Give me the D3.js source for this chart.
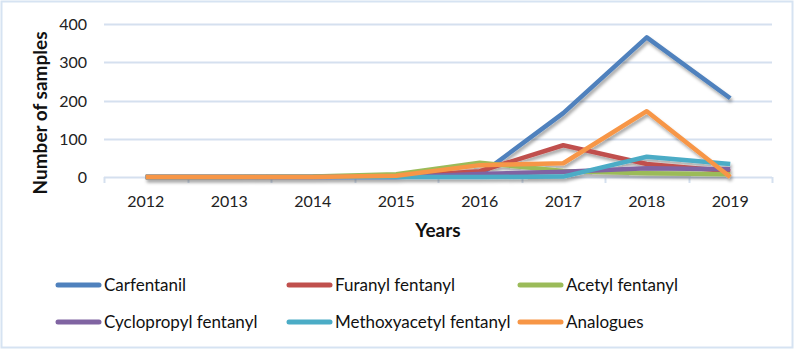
<!DOCTYPE html>
<html>
<head>
<meta charset="utf-8">
<script src="https://cdn.jsdelivr.net/npm/d3@7"></script>
<style>
  html, body { margin: 0; padding: 0; background: #fff; }
  svg { display: block; }
</style>
</head>
<body>
<svg id="chart" width="796" height="350"></svg>
<script>
const years = ["2012","2013","2014","2015","2016","2017","2018","2019"];
const yTicks = [0, 100, 200, 300, 400];
const seriesNames = ["Carfentanil","Furanyl fentanyl","Acetyl fentanyl","Cyclopropyl fentanyl","Methoxyacetyl fentanyl","Analogues"];
const carfentanil   = [0, 0, 0, 0, 5, 167, 365, 206];
const furanyl       = [0, 0, 0, 1, 15, 83, 34, 15];
const acetyl        = [0, 0, 1, 7, 37, 16, 10, 7];
const cyclopropyl   = [0, 0, 0, 0, 8, 14, 23, 20];
const methoxyacetyl = [0, 0, 0, 0, 0, 1, 53, 34];
const analogues     = [0, 0, 0, 3, 31, 36, 172, 0];
const seriesValues = [carfentanil, furanyl, acetyl, cyclopropyl, methoxyacetyl, analogues];
const colors = ["#4F81BD","#C0504D","#9BBB59","#8064A2","#4BACC6","#F79646"];

const svg = d3.select("#chart");
const gridColor = "#d5e0ef";
const font = "Lato, 'Open Sans', sans-serif";

// border
svg.append("rect").attr("x", 1.5).attr("y", 1.5).attr("width", 791).attr("height", 346)
  .attr("fill", "#fff").attr("stroke", "#d6e3f2").attr("stroke-width", 2);

const defs = svg.append("defs");
const f = defs.append("filter").attr("id", "shadow").attr("x", "-10%").attr("y", "-10%").attr("width", "120%").attr("height", "130%");
f.append("feDropShadow").attr("dx", 1.5).attr("dy", 3).attr("stdDeviation", 1.8)
  .attr("flood-color", "#000").attr("flood-opacity", 0.33);

const x = d3.scaleBand().domain(years).range([104, 772]).padding(0);
const y = d3.scaleLinear().domain([0, 400]).range([177, 24]);
const cx = d => x(d) + x.bandwidth() / 2;

// gridlines
svg.append("g").selectAll("line").data(yTicks.filter(t => t > 0)).join("line")
  .attr("x1", 104).attr("x2", 772)
  .attr("y1", d => Math.round(y(d)) + 0.5).attr("y2", d => Math.round(y(d)) + 0.5)
  .attr("stroke", gridColor).attr("stroke-width", 2);

// y axis labels
const yAxis = d3.axisLeft(y).tickValues(yTicks).tickSize(0).tickPadding(0);
const gy = svg.append("g").attr("transform", "translate(87,0)").call(yAxis);
gy.select(".domain").remove();
gy.selectAll("text").attr("font-family", font).attr("font-size", 16).attr("fill", "#222").attr("dy", "0.35em");

// x axis
const gx = svg.append("g").attr("transform", "translate(0,177)");
gx.append("line").attr("x1", 104).attr("x2", 772).attr("y1", 0.5).attr("y2", 0.5)
  .attr("stroke", gridColor).attr("stroke-width", 2);
const edges = years.map(d => x(d)).concat([x.range()[1]]);
gx.selectAll("line.tick").data(edges).join("line").attr("class", "tick")
  .attr("x1", d => Math.round(d) + 0.5).attr("x2", d => Math.round(d) + 0.5)
  .attr("y1", 0).attr("y2", 6).attr("stroke", gridColor).attr("stroke-width", 2);
gx.selectAll("text").data(years).join("text")
  .attr("x", d => cx(d)).attr("y", 30).attr("text-anchor", "middle")
  .attr("font-family", font).attr("font-size", 16).attr("fill", "#222").text(d => d);

// lines
const line = d3.line().x((d, i) => cx(years[i])).y(d => y(d));
const lg = svg.append("g").attr("filter", "url(#shadow)");
seriesValues.forEach((vals, i) => {
  lg.append("path").datum(vals).attr("d", line).attr("fill", "none")
    .attr("stroke", colors[i]).attr("stroke-width", 4.5).attr("stroke-linejoin", "round").attr("stroke-linecap", "butt");
});

// axis titles
svg.append("text").attr("transform", "translate(47,113) rotate(-90)").attr("text-anchor", "middle")
  .attr("font-family", font).attr("font-weight", "bold").attr("font-size", 19).attr("fill", "#111")
  .text("Number of samples");
svg.append("text").attr("x", 438).attr("y", 237).attr("text-anchor", "middle")
  .attr("font-family", font).attr("font-weight", "bold").attr("font-size", 19).attr("fill", "#111")
  .text("Years");

// legend
const legend = svg.append("g");
seriesNames.forEach((name, i) => {
  const col = i % 3, row = Math.floor(i / 3);
  const lx = 56 + col * 231, ly = 285 + row * 37;
  legend.append("line").attr("x1", lx + 2).attr("x2", lx + 43).attr("y1", ly).attr("y2", ly)
    .attr("stroke", colors[i]).attr("stroke-width", 5).attr("stroke-linecap", "round");
  legend.append("text").attr("x", lx + 48).attr("y", ly + 6)
    .attr("font-family", font).attr("font-size", 17).attr("fill", "#111").text(name);
});
</script>
</body>
</html>
